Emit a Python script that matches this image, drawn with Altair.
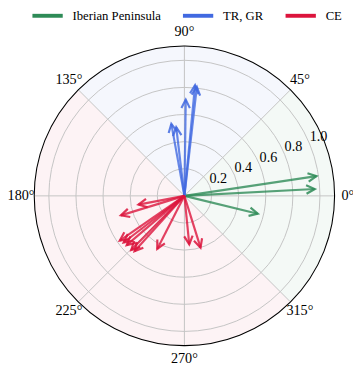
import altair as alt
import pandas as pd

# ---------------- data ----------------
groups = ["Iberian Peninsula", "TR, GR", "CE"]
colors = ["#2E8B57", "#4169E1", "#DC143C"]

ib_angle = [8.5, 3.0, 346.3]
ib_len = [0.985, 0.963, 0.557]
trgr_angle = [84.5, 83.5, 89.2, 100.3, 96.8]
trgr_len = [0.82, 0.81, 0.71, 0.54, 0.51]
ce_angle = [190.8, 197.1, 214.7, 217.5, 220.5, 225.5, 228.0, 242.9, 275.7, 287.3]
ce_len = [0.345, 0.49, 0.58, 0.565, 0.56, 0.56, 0.55, 0.44, 0.36, 0.40]

sector_start = [-45, 45, 135]   # degrees, counter-clockwise from east
sector_end = [45, 135, 315]

ring_values = [0.2, 0.4, 0.6, 0.8, 1.0]
angle_ticks = [0, 45, 90, 135, 180, 225, 270, 315]
R_MAX = 1.105

# ---------------- layout ----------------
PX = 138.7                      # pixels per radial unit
W, H = 353, 364
CX, CY = 180.5, 188.0
xs = alt.Scale(domain=[-CX / PX, (W - CX) / PX], nice=False, zero=False)
ys = alt.Scale(domain=[-(H - CY) / PX, CY / PX], nice=False, zero=False)
cs = alt.Scale(domain=groups, range=colors)
FONT = "Liberation Serif"
color_of = dict(zip(groups, colors))

arrows = pd.DataFrame({
    "group": [groups[0]] * len(ib_angle) + [groups[1]] * len(trgr_angle) + [groups[2]] * len(ce_angle),
    "angle": ib_angle + trgr_angle + ce_angle,
    "r": ib_len + trgr_len + ce_len,
})
arrows["col"] = arrows["group"].map(color_of)
sectors = pd.DataFrame({"group": groups, "a0": sector_start, "a1": sector_end})
sectors["col"] = sectors["group"].map(color_of)
rings = pd.DataFrame({"ring": ring_values})
ticks = pd.DataFrame({"a": angle_ticks})
outer = pd.DataFrame({"rmax": [R_MAX]})

X0 = alt.X(datum=0, scale=xs, axis=None)
Y0 = alt.Y(datum=0, scale=ys, axis=None)

sector_layer = alt.Chart(sectors).mark_arc(fillOpacity=0.05, strokeWidth=0).transform_calculate(
    t1="(90 - datum.a1) * PI / 180", t2="(90 - datum.a0) * PI / 180",
    rpx=f"{R_MAX} * {PX}",
).encode(
    x=X0, y=Y0,
    theta=alt.Theta("t1:Q", scale=None, stack=None),
    theta2="t2:Q",
    radius=alt.Radius("rpx:Q", scale=None, stack=None),
    fill=alt.Fill("col:N", scale=None),
)

ring_layer = alt.Chart(rings).mark_arc(
    fillOpacity=0, stroke="#c4c4c4", strokeWidth=1, theta=0, theta2=6.2832
).transform_calculate(rpx=f"datum.ring * {PX}").encode(
    x=X0, y=Y0, radius=alt.Radius("rpx:Q", scale=None, stack=None)
)

spoke_layer = alt.Chart(ticks).mark_rule(color="#c4c4c4", strokeWidth=1).transform_calculate(
    x0="0", y0="0",
    ex=f"{R_MAX} * cos(datum.a * PI / 180)", ey=f"{R_MAX} * sin(datum.a * PI / 180)",
).encode(
    x=alt.X("x0:Q", scale=xs, axis=None), y=alt.Y("y0:Q", scale=ys, axis=None),
    x2="ex:Q", y2="ey:Q",
)

outer_layer = alt.Chart(outer).mark_arc(
    fillOpacity=0, stroke="black", strokeWidth=1.1, theta=0, theta2=6.2832
).transform_calculate(rpx=f"datum.rmax * {PX}").encode(
    x=X0, y=Y0, radius=alt.Radius("rpx:Q", scale=None, stack=None)
)

angle_labels = alt.Chart(ticks).mark_text(
    font=FONT, fontSize=14.5, color="black", align="center", baseline="middle"
).transform_calculate(
    lx="1.205 * cos(datum.a * PI / 180)", ly="1.205 * sin(datum.a * PI / 180)",
    lab="datum.a + '°'",
).encode(
    x=alt.X("lx:Q", scale=xs, axis=None), y=alt.Y("ly:Q", scale=ys, axis=None), text="lab:N"
)

r_labels = alt.Chart(rings).mark_text(
    font=FONT, fontSize=14.5, color="black", align="left", baseline="bottom"
).transform_calculate(
    px="datum.ring * cos(22.5 * PI / 180)", py="datum.ring * sin(22.5 * PI / 180)",
    lab="format(datum.ring, '.1f')",
).encode(
    x=alt.X("px:Q", scale=xs, axis=None), y=alt.Y("py:Q", scale=ys, axis=None), text="lab:N"
)

arrow_base = alt.Chart(arrows).transform_calculate(
    x0="0", y0="0",
    tx="datum.r * cos(datum.angle * PI / 180)", ty="datum.r * sin(datum.angle * PI / 180)",
    rot="(450 - datum.angle) % 360",
)

shafts = arrow_base.mark_rule(strokeWidth=2.2, opacity=0.8).encode(
    x=alt.X("x0:Q", scale=xs, axis=None), y=alt.Y("y0:Q", scale=ys, axis=None),
    x2="tx:Q", y2="ty:Q",
    color=alt.Color("group:N", scale=cs, legend=alt.Legend(
        orient="none", legendX=23, legendY=-14, direction="horizontal", title=None,
        symbolType="stroke", symbolSize=961, symbolStrokeWidth=4, symbolOpacity=1,
        labelFont=FONT, labelFontSize=13, labelColor="black", labelOffset=8,
        columnPadding=14,
    )),
)

heads = arrow_base.mark_point(
    shape="M-0.5,1L0,0L0.5,1", filled=False, strokeWidth=2.2, size=300, opacity=0.85,
).encode(
    x=alt.X("tx:Q", scale=xs, axis=None), y=alt.Y("ty:Q", scale=ys, axis=None),
    angle=alt.Angle("rot:Q", scale=None),
    stroke=alt.Stroke("col:N", scale=None),
)

chart = alt.layer(
    sector_layer, ring_layer, spoke_layer, outer_layer, r_labels, angle_labels, shafts, heads
).properties(
    width=W, height=H, autosize="none", padding=0,
).configure_view(stroke=None)

chart.save("out.html", embed_options={"renderer": "svg", "actions": False})
